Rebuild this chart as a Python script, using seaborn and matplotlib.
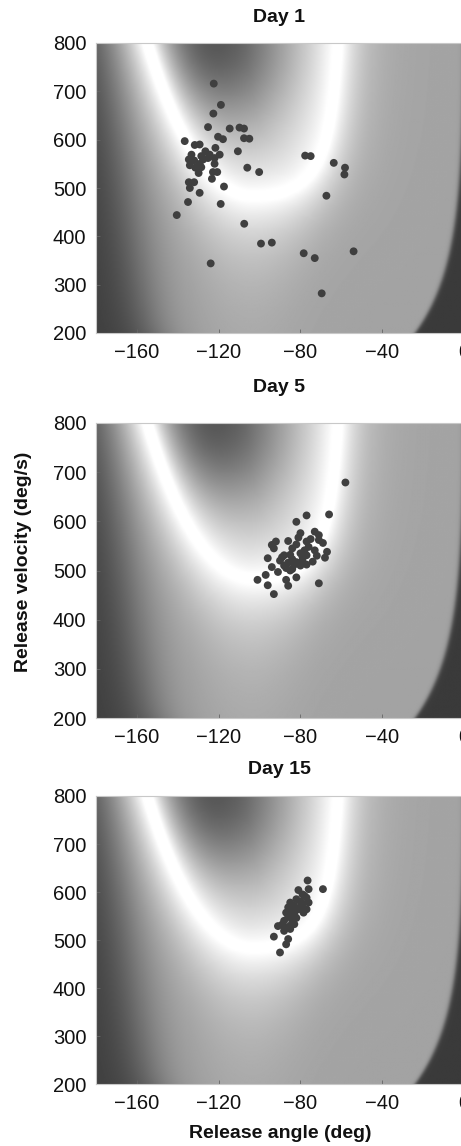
import numpy as np
import pandas as pd
import matplotlib
matplotlib.use("Agg")
import matplotlib.pyplot as plt
import seaborn as sns

# ---------------- data ----------------
panel_titles = ["Day 1", "Day 5", "Day 15"]

day1_angle = [-122.4, -118.9, -122.6, -125.2, -114.6, -109.8, -107.6, -136.6, -131.7, -129.3,
              -120.3, -117.9, -107.6, -105.0, -121.6, -110.6, -126.5, -124.4, -133.3, -128.5,
              -119.5, -134.6, -132.0, -127.6, -125.2, -122.0, -134.1, -129.3, -128.5, -122.0,
              -131.4, -129.8, -122.8, -120.7, -123.3, -134.6, -132.0, -134.1, -117.4, -129.3,
              -135.0, -119.0, -106.0, -100.2, -77.7, -75.0, -63.7, -58.2, -58.5, -67.3,
              -140.5, -107.5, -99.3, -94.0, -78.4, -73.0, -54.0, -123.9, -69.6]
day1_velocity = [716, 672, 654, 626, 623, 625, 623, 597, 589, 590,
                 606, 601, 603, 602, 583, 576, 576, 569, 569, 566,
                 569, 559, 557, 559, 562, 562, 547, 550, 543, 550,
                 542, 531, 533, 533, 519, 512, 512, 500, 503, 490,
                 471, 467, 542, 533, 567, 566, 552, 542, 528, 484,
                 444, 426, 385, 387, 365, 355, 369, 344, 282]

day5_angle = [-58, -66, -77, -82, -80, -73, -71, -71, -75, -81,
              -77, -94, -92, -86, -84, -78, -73, -69, -67, -93,
              -88, -85, -80, -77, -72, -68, -96, -89, -84, -79,
              -74, -86, -82, -77, -94, -88, -87, -84, -80, -97,
              -91, -85, -101, -87, -82, -96, -86, -71, -93, -82,
              -76, -90, -83, -79]
day5_velocity = [679, 614, 612, 599, 576, 579, 572, 562, 564, 567,
                 559, 552, 559, 560, 545, 541, 541, 556, 538, 545,
                 531, 532, 535, 531, 530, 526, 525, 527, 523, 521,
                 518, 516, 517, 512, 507, 510, 505, 503, 510, 491,
                 497, 500, 481, 481, 486, 470, 469, 474, 452, 553,
                 548, 520, 512, 528]

day15_angle = [-76.5, -69, -81, -76, -79, -77, -82, -85, -83, -79,
               -76, -86, -81, -77, -87, -83, -78.5, -88, -84, -87.5,
               -83, -91, -88, -85, -93, -86, -87, -90, -80, -84,
               -82, -86, -78, -80, -85, -89]
day15_velocity = [624, 606, 604, 606, 595, 588, 585, 578, 571, 575,
                  578, 568, 564, 564, 557, 554, 557, 540, 540, 526,
                  533, 529, 519, 523, 507, 502, 491, 474, 580, 560,
                  546, 548, 592, 568, 530, 532]

x_ticks = [-160, -120, -80, -40, 0]
y_ticks = [200, 300, 400, 500, 600, 700, 800]
x_label = "Release angle (deg)"
y_label = "Release velocity (deg/s)"

# ---------------- background landscape (error surface) ----------------
A = np.linspace(-180, 0, 361)
V = np.linspace(200, 800, 301)
AA, VV = np.meshgrid(A, V)
ac, v0 = -103.0, 483.0
kL, WL, kR, WR = 1821.0, 135.0, 85.8, 46.2

uL = np.linspace(0, 0.6, 4000)
aLr = ac - WL * uL
vLr = v0 + kL * uL**2 / (1 - uL**2)
uR = np.linspace(0, 0.992, 8000)
aRr = ac + WR * uR
vRr = v0 + kR * uR**2 / (1 - uR**2)
ra = np.concatenate([aLr[::-1], aRr])
rv = np.concatenate([vLr[::-1], vRr])
keep = rv < 1100
ra, rv = ra[keep], rv[keep]
sx, sy = 2.05, 0.487
RX, RY = ra * sx, rv * sy
seg = np.hypot(np.diff(RX), np.diff(RY))
cum = np.concatenate([[0], np.cumsum(seg)])
tgt = np.arange(0, cum[-1], 1.0)
RXs = np.interp(tgt, cum, RX)
RYs = np.interp(tgt, cum, RY)

PX = (AA * sx).ravel()
PY = (VV * sy).ravel()
d = np.empty_like(PX)
chunk = 4000
for i in range(0, PX.size, chunk):
    dx = PX[i:i + chunk, None] - RXs[None, :]
    dy = PY[i:i + chunk, None] - RYs[None, :]
    d[i:i + chunk] = np.sqrt((dx * dx + dy * dy).min(axis=1))
d = d.reshape(AA.shape)
d = np.maximum(d - 5.0, 0.0)

uLg = np.clip((ac - AA) / WL, 0, 0.999)
uRg = np.clip((AA - ac) / WR, 0, 0.999)
ridge_v = np.where(AA < ac, v0 + kL * uLg**2 / (1 - uLg**2),
                   np.where((AA - ac) / WR < 1, v0 + kR * uRg**2 / (1 - uRg**2), np.inf))
inside = VV > ridge_v


def sig(x):
    return 1.0 / (1.0 + np.exp(-x))


# inside the U: dark pocket near (-130, 800)
r_dark = np.hypot((AA + 130) * sx, (VV - 805) * sy)
G_in = 0.28 + 0.62 * (1 - np.exp(-(r_dark / 100.0) ** 2))
B_in = G_in + (1 - G_in) * np.exp(-d / 22.0)
# outside the U
aLd = -151 - 19 * np.clip((VV - 200) / 600, 0, 1) ** 0.6
G_out = 0.24 + 0.40 * sig((AA - aLd) / 8.0)
w_out = 20 + 32 * np.exp(-((AA + 105) / 30.0) ** 2)
B_out = G_out + (1 - G_out) * np.exp(-d / w_out)
B = np.where(inside, B_in, B_out)
# sharp dark region on the far right
aE = -24 * np.exp(-(VV - 200) / 140.0)
edge = sig((AA - aE) / 0.6)
B = B * (1 - edge) + 0.23 * edge

# ---------------- figure ----------------
sns.set_theme(style="white")
plt.rcParams["font.family"] = ["Liberation Sans", "DejaVu Sans"]

W, H = 461, 1146
fig = plt.figure(figsize=(W / 100, H / 100), dpi=100)

panels = [
    (day1_angle, day1_velocity, 43, 333, 17),
    (day5_angle, day5_velocity, 423, 718, 387),
    (day15_angle, day15_velocity, 796, 1084, 770),
]
left_px, right_px = 96, 464

for (title, (ang, vel, top, bot, ty)) in zip(panel_titles, panels):
    ax = fig.add_axes([left_px / W, 1 - bot / H, (right_px - left_px) / W, (bot - top) / H])
    ax.imshow(B, extent=[-180, 0, 200, 800], origin="lower", cmap="gray",
              vmin=0, vmax=1, aspect="auto", interpolation="bilinear", zorder=0)
    df = pd.DataFrame({"angle": ang, "velocity": vel})
    sns.scatterplot(data=df, x="angle", y="velocity", ax=ax, color="#3f3f3f",
                    s=32, edgecolor="none", linewidth=0, zorder=3, legend=False)
    ax.set_xlim(-180, 0)
    ax.set_ylim(200, 800)
    ax.set_xticks(x_ticks)
    ax.set_yticks(y_ticks)
    ax.set_xlabel("")
    ax.set_ylabel("")
    ax.tick_params(direction="in", length=3, width=0.6, color="#666666",
                   labelsize=14.5, pad=7, labelcolor="#111111",
                   bottom=True, left=True)
    for sp in ax.spines.values():
        sp.set_color("#c8c8c8")
        sp.set_linewidth(0.8)
    fig.text((left_px + 366 / 2) / W, 1 - ty / H, title, ha="center", va="center",
             fontsize=14, fontweight="bold", color="#111111")

fig.text(24 / W, 1 - 562 / H, y_label, rotation=90, ha="center", va="center",
         fontsize=14, fontweight="bold", color="#111111")
fig.text(280 / W, 1 - 1133 / H, x_label, ha="center", va="center",
         fontsize=14, fontweight="bold", color="#111111")

fig.savefig("out.png", dpi=100)
